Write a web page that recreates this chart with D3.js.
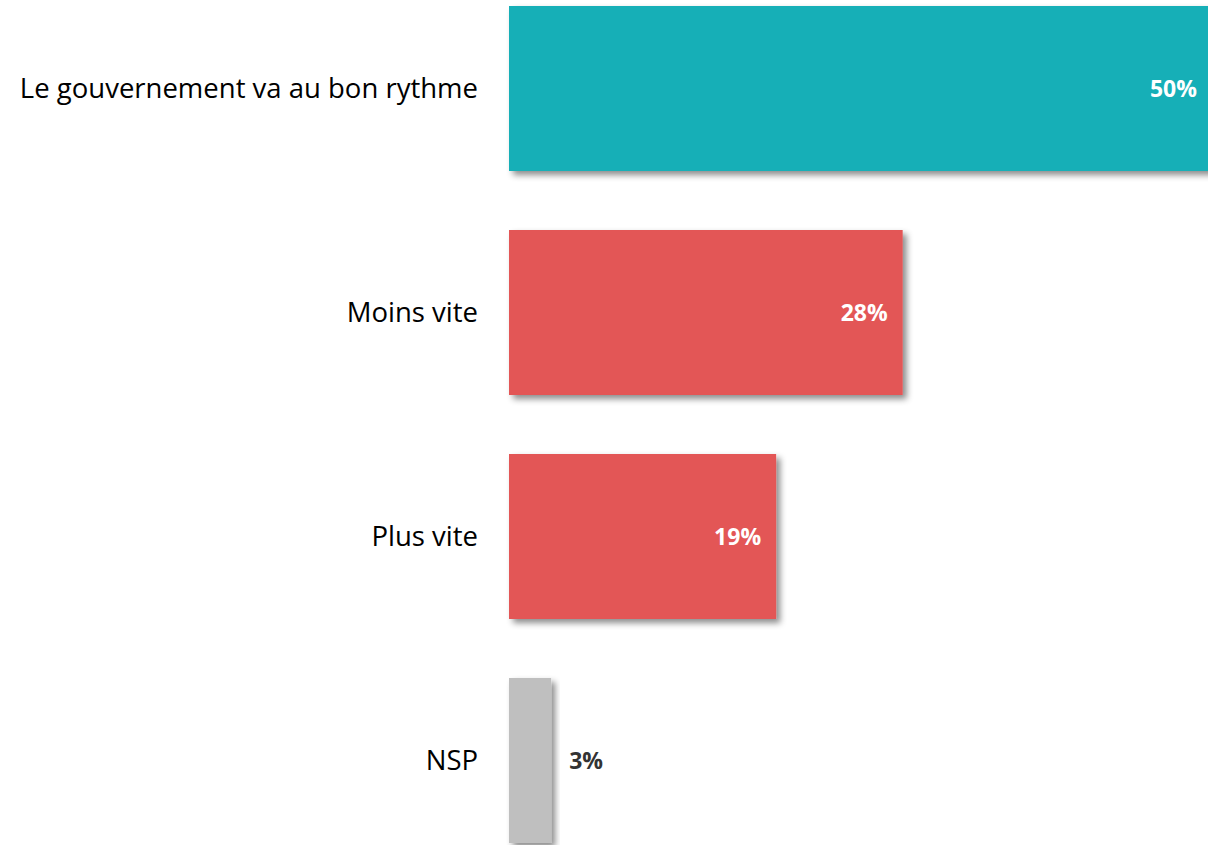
<!DOCTYPE html>
<html>
<head>
<meta charset="utf-8">
<script src="https://cdn.jsdelivr.net/npm/d3@7"></script>
<style>
  body { margin: 0; background: #fff; }
  svg { display: block; }
</style>
</head>
<body>
<svg width="1208" height="845"></svg>
<script>
// Data
// ----
var categories = ['Le gouvernement va au bon rythme', 'Moins vite', 'Plus vite', 'NSP'];
var values = [50, 28, 19, 3];
var colors = ['#14afb7', '#e35756', '#e35756', '#bfbfbf'];

var svg = d3.select('svg');
var font = '"Open Sans", "Noto Sans", sans-serif';

// scales
var x = d3.scaleLinear().domain([0, 50]).range([509, 1212]);
var y = d3.scaleBand().domain(categories).range([6, 843]).paddingInner(59 / 224).paddingOuter(0);

// drop shadow
var defs = svg.append('defs');
defs.append('filter')
    .attr('id', 'shadow')
    .attr('x', '-10%').attr('y', '-10%')
    .attr('width', '130%').attr('height', '130%')
  .append('feDropShadow')
    .attr('dx', 4).attr('dy', 4)
    .attr('stdDeviation', 3)
    .attr('flood-color', '#000')
    .attr('flood-opacity', 0.45);

var rows = svg.selectAll('g.row')
  .data(categories)
  .enter().append('g')
  .attr('class', 'row');

rows.append('rect')
  .attr('x', x(0))
  .attr('y', function (d) { return y(d); })
  .attr('width', function (d, i) { return x(values[i]) - x(0); })
  .attr('height', y.bandwidth())
  .style('fill', function (d, i) { return colors[i]; })
  .attr('filter', 'url(#shadow)');

// category labels
rows.append('text')
  .attr('x', x(0) - 31)
  .attr('y', function (d) { return y(d) + y.bandwidth() / 2; })
  .attr('dy', '0.35em')
  .attr('text-anchor', 'end')
  .attr('font-family', font)
  .attr('font-size', '27.5px')
  .attr('fill', '#000')
  .text(function (d) { return d; });

// value labels
rows.append('text')
  .attr('x', function (d, i) {
    return values[i] > 10 ? x(values[i]) - 15 : x(values[i]) + 18;
  })
  .attr('y', function (d) { return y(d) + y.bandwidth() / 2; })
  .attr('dy', '0.35em')
  .attr('text-anchor', function (d, i) { return values[i] > 10 ? 'end' : 'start'; })
  .attr('font-family', font)
  .attr('font-weight', 'bold')
  .attr('font-size', '23px')
  .attr('fill', function (d, i) { return values[i] > 10 ? '#fff' : '#333'; })
  .text(function (d, i) { return values[i] + '%'; });
</script>
</body>
</html>
